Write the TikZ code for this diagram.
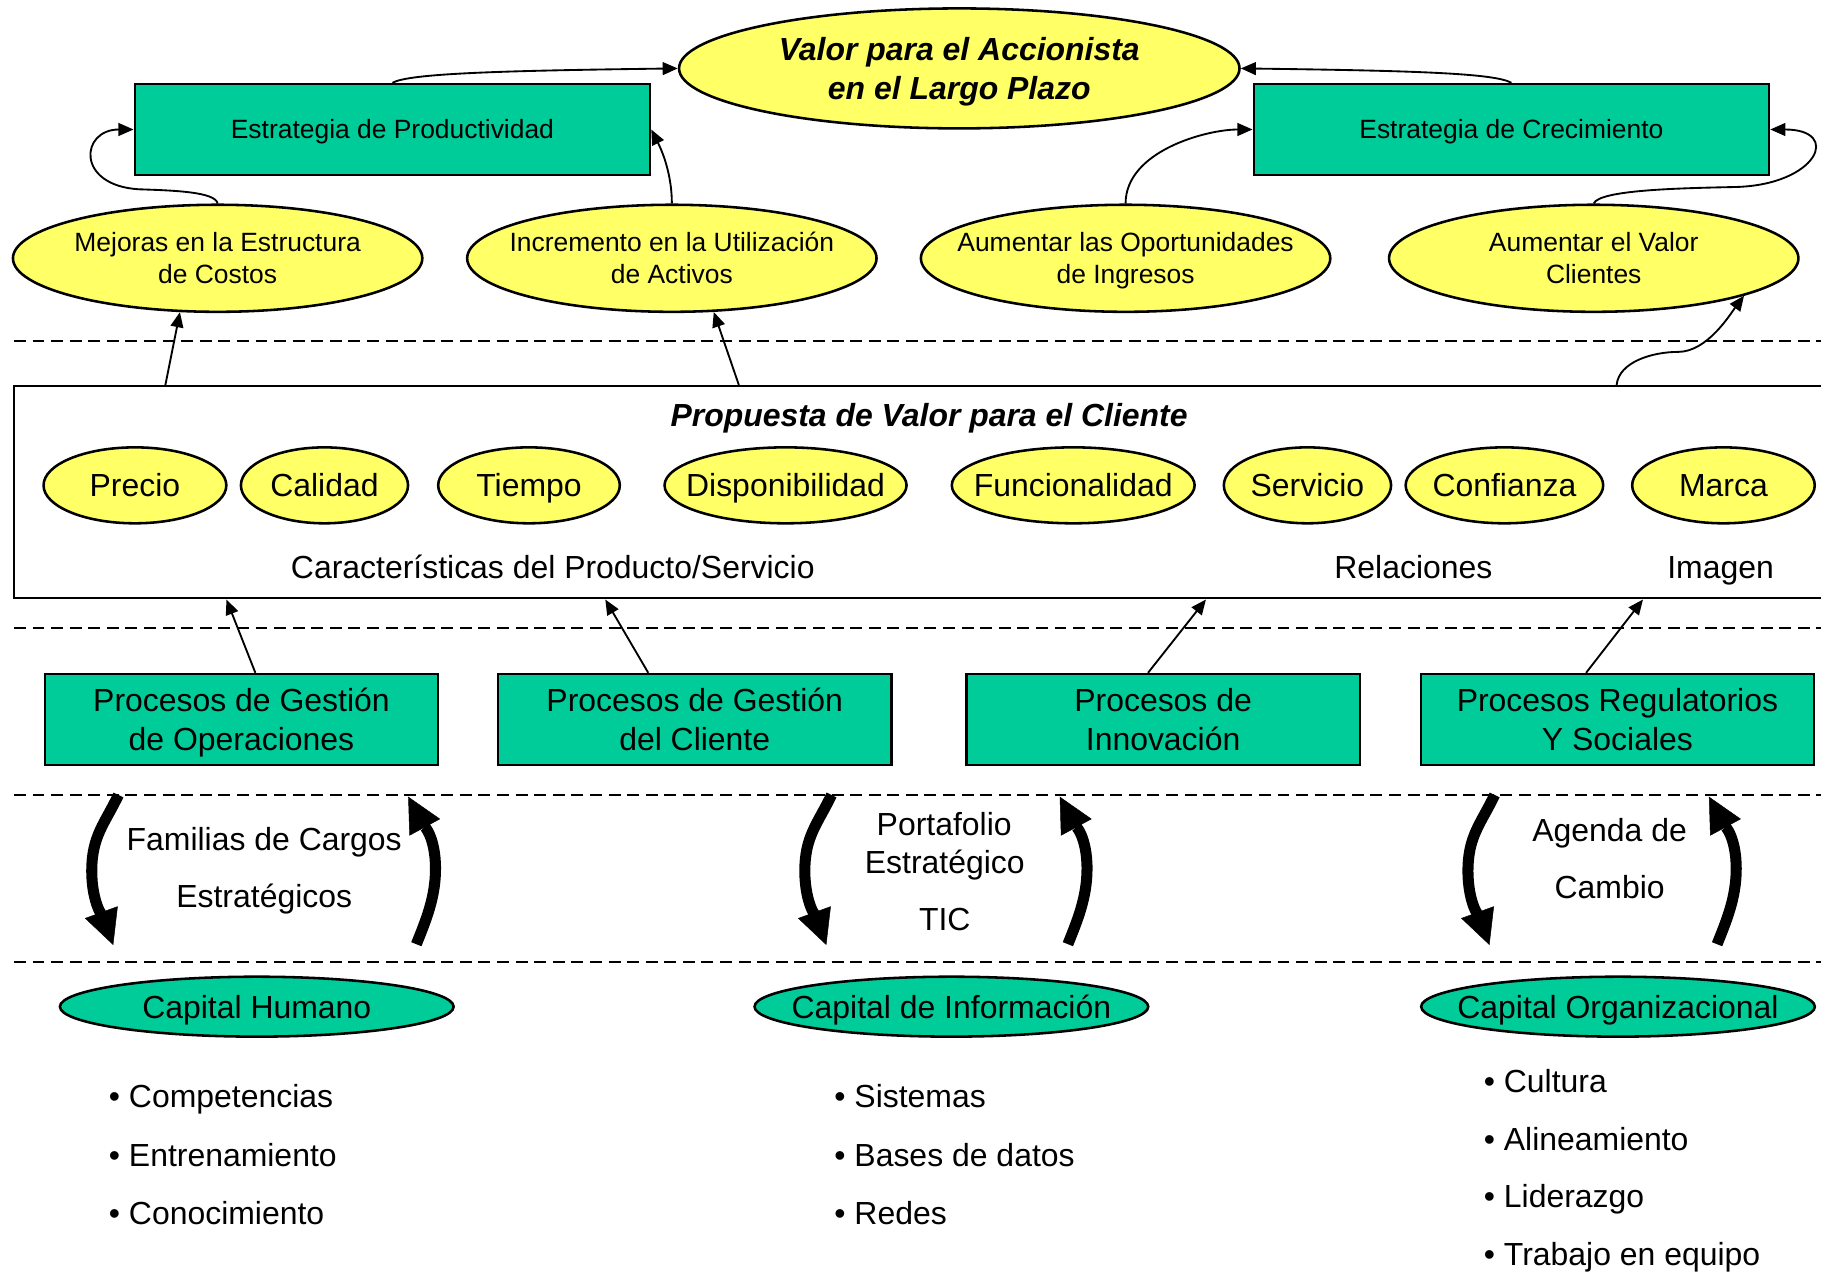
\documentclass[tikz,border=0pt]{standalone}
\usepackage{fontspec}
\setmainfont{Liberation Sans}
\usetikzlibrary{arrows.meta,calc,shapes.geometric}

\definecolor{kgreen}{RGB}{0,204,153}
\definecolor{kyellow}{RGB}{255,255,102}

\newcommand\fbig{\fontsize{27.5}{33}\selectfont}
\newcommand\fsml{\fontsize{22.75}{27.5}\selectfont}
% centred text of zero width, first line on the baseline
\newcommand\ctext[1]{\makebox[0pt]{\begin{tabular}[t]{@{}c@{}}#1\end{tabular}}}

\tikzset{
  yell/.style={ellipse, draw, line width=2.2pt, fill=kyellow, inner sep=0pt},
  gell/.style={ellipse, draw, line width=2.2pt, fill=kgreen, inner sep=0pt},
  gbox/.style={rectangle, draw, line width=2pt, fill=kgreen, inner sep=0pt},
  bigone/.style={font=\fbig, text height=19.7pt, text depth=0pt},
  bigtwo/.style={font=\fbig, text height=19.7pt, text depth=33pt},
  smlone/.style={font=\fsml, text height=16.3pt, text depth=0pt},
  smltwo/.style={font=\fsml, text height=16.3pt, text depth=27.5pt},
  lbl/.style={font=\fbig, anchor=base, inner sep=0pt},
  listitem/.style={font=\fbig, anchor=base west, inner sep=0pt},
  con/.style={line width=1.6pt, -{Triangle[length=13pt,width=11pt]}},
  fat/.style={line width=9.5pt, -{Triangle[length=30pt,width=30pt,line width=0.4pt]}},
  dashsep/.style={line width=1.8pt, dash pattern=on 10.3pt off 5.7pt},
}

\begin{document}
\begin{tikzpicture}[x=1pt,y=-1pt]
\useasboundingbox (0,0) rectangle (1568,1095);
\clip (0,0) rectangle (1568,1095);

% separators between the layers
\draw[dashsep] (12,293.6) -- (1568,293.6);
\draw[dashsep] (12,541) -- (1568,541);
\draw[dashsep] (12,684.5) -- (1568,684.5);
\draw[dashsep] (12,828) -- (1568,828);

% financial layer
\node[yell, minimum width=482.6pt, minimum height=103.3pt, bigtwo, font=\fbig\bfseries\itshape]
  (valor) at (826,58.9) {\ctext{Valor para el Accionista\\en el Largo Plazo}};
\node[gbox, minimum width=443.8pt, minimum height=78.4pt, smlone]
  (prod) at (337.9,111.5) {\ctext{Estrategia de Productividad}};
\node[gbox, minimum width=443.8pt, minimum height=78.4pt, smlone]
  (crec) at (1301.4,111.5) {\ctext{Estrategia de Crecimiento}};

\node[yell, minimum width=352.5pt, minimum height=92.2pt, smltwo]
  (mej) at (187.4,222.4) {\ctext{Mejoras en la Estructura\\de Costos}};
\node[yell, minimum width=352.5pt, minimum height=92.2pt, smltwo]
  (inc) at (578.5,222.4) {\ctext{Incremento en la Utilización\\de Activos}};
\node[yell, minimum width=352.5pt, minimum height=92.2pt, smltwo]
  (opo) at (969.2,222.4) {\ctext{Aumentar las Oportunidades\\de Ingresos}};
\node[yell, minimum width=352.5pt, minimum height=92.2pt, smltwo]
  (valc) at (1372.3,222.4) {\ctext{Aumentar el Valor\\Clientes}};

% customer layer
\node[draw, rectangle, line width=2pt, inner sep=0pt, minimum width=1563pt, minimum height=182.7pt]
  (prop) at (793.5,423.85) {};
\node[lbl, font=\fbig\bfseries\itshape] (propt) at (800,367.5) {Propuesta de Valor para el Cliente};

\node[yell, minimum width=157.4pt, minimum height=65.4pt, bigone] (precio) at (116.2,417.9) {\ctext{Precio}};
\node[yell, minimum width=143.9pt, minimum height=65.4pt, bigone] (calidad) at (279.4,417.9) {\ctext{Calidad}};
\node[yell, minimum width=156.4pt, minimum height=65.4pt, bigone] (tiempo) at (455.5,417.9) {\ctext{Tiempo}};
\node[yell, minimum width=208.4pt, minimum height=65.4pt, bigone] (dispo) at (676.4,417.9) {\ctext{Disponibilidad}};
\node[yell, minimum width=209.1pt, minimum height=65.4pt, bigone] (funci) at (924.1,417.9) {\ctext{Funcionalidad}};
\node[yell, minimum width=144pt, minimum height=65.4pt, bigone] (servi) at (1125.8,417.9) {\ctext{Servicio}};
\node[yell, minimum width=170.1pt, minimum height=65.4pt, bigone] (confi) at (1295.4,417.9) {\ctext{Confianza}};
\node[yell, minimum width=157.2pt, minimum height=65.4pt, bigone] (marca) at (1484,417.9) {\ctext{Marca}};

\node[lbl] (carac) at (476,498) {Características del Producto/Servicio};
\node[lbl] (relac) at (1217,498) {Relaciones};
\node[lbl] (imag) at (1481.5,498) {Imagen};

% internal layer
\node[gbox, minimum width=338.8pt, minimum height=78.3pt, bigtwo]
  (ops) at (207.9,619.5) {\ctext{Procesos de Gestión\\de Operaciones}};
\node[gbox, minimum width=338.8pt, minimum height=78.3pt, bigtwo]
  (cli) at (598.2,619.5) {\ctext{Procesos de Gestión\\del Cliente}};
\node[gbox, minimum width=338.8pt, minimum height=78.3pt, bigtwo]
  (inn) at (1001.5,619.5) {\ctext{Procesos de\\Innovación}};
\node[gbox, minimum width=338.8pt, minimum height=78.3pt, bigtwo]
  (reg) at (1392.7,619.5) {\ctext{Procesos Regulatorios\\Y Sociales}};

% learning layer
\node[lbl] (fam1) at (227.5,732.5) {Familias de Cargos};
\node[lbl] (fam2) at (227.5,781.5) {Estratégicos};
\node[lbl] (port1) at (813,719) {Portafolio};
\node[lbl] (port2) at (813.5,752) {Estratégico};
\node[lbl] (tic) at (813.5,801.5) {TIC};
\node[lbl] (age1) at (1386,724.5) {Agenda de};
\node[lbl] (age2) at (1386,773.5) {Cambio};

\node[gell, minimum width=339pt, minimum height=51.6pt, bigone] (ch) at (221.1,866.8) {\ctext{Capital Humano}};
\node[gell, minimum width=339pt, minimum height=51.6pt, bigone] (ci) at (819.2,866.8) {\ctext{Capital de Información}};
\node[gell, minimum width=339pt, minimum height=51.6pt, bigone] (co) at (1393.2,866.8) {\ctext{Capital Organizacional}};

\node[listitem] (h1) at (93.6,954) {• Competencias};
\node[listitem] (h2) at (93.6,1004) {• Entrenamiento};
\node[listitem] (h3) at (93.6,1054) {• Conocimiento};
\node[listitem] (i1) at (718.3,954) {• Sistemas};
\node[listitem] (i2) at (718.3,1004) {• Bases de datos};
\node[listitem] (i3) at (718.3,1054) {• Redes};
\node[listitem] (o1) at (1277.5,941) {• Cultura};
\node[listitem] (o2) at (1277.5,990.5) {• Alineamiento};
\node[listitem] (o3) at (1277.5,1040) {• Liderazgo};
\node[listitem] (o4) at (1277.5,1089.5) {• Trabajo en equipo};

% strategy links
\draw[con] (prod.north) .. controls +(14,-8) and +(-155,2) .. (valor.west);
\draw[con] (crec.north) .. controls +(-14,-8) and +(155,2) .. (valor.east);
\draw[con] (mej.north) .. controls +(-2,-10) and +(30,1) .. (120,163)
                       .. controls +(-55,-3) and +(-46,0) .. (prod.west);
\draw[con] (inc.north) .. controls +(0,-30) and +(6,12) .. (prod.east);
\draw[con] (opo.north) .. controls +(0,-45) and +(-40,0) .. (crec.west);
\draw[con] (valc.north) .. controls +(5,-12) and +(-45,1) .. (1495,161)
                        .. controls +(70,-2) and +(62,0) .. (crec.east);

% customer proposition to financial objectives
\coordinate (pa) at ($(prop.north west)+(131.4,0)$);
\coordinate (pb) at ($(prop.north west)+(625.2,0)$);
\coordinate (pc) at ($(prop.north west)+(1381,0)$);
\draw[con] (pa) -- (mej.235);
\draw[con] (pb) -- (inc.308);
\draw[con] (pc) .. controls +(2,-20) and +(-22,0) .. (1445,303)
                .. controls +(25,0) and +(-12,16) .. (valc.346);

% processes to customer proposition
\draw[con] ($(ops.north)+(12,0)$) -- ($(prop.south west)+(184,0)$);
\draw[con] ($(cli.north)+(-40,0)$) -- ($(prop.south west)+(510.2,0)$);
\draw[con] ($(inn.north)+(-13,0)$) -- ($(prop.south west)+(1027.4,0)$);
\draw[con] ($(reg.north)+(-27,0)$) -- ($(prop.south west)+(1403.7,0)$);

% alignment arrows between intangible assets and processes
\coordinate (da1) at (102,684.5);   \coordinate (da2) at (79,750);    \coordinate (da3) at (97.5,813.7);
\coordinate (ua1) at (358.5,813);   \coordinate (ua2) at (375,748);   \coordinate (ua3) at (351.5,686);
\coordinate (db1) at (716,684.5);   \coordinate (db2) at (693,750);   \coordinate (db3) at (711.5,813.7);
\coordinate (ub1) at (919.5,813);   \coordinate (ub2) at (936,748);   \coordinate (ub3) at (912.5,686);
\coordinate (dc1) at (1287,684.5);  \coordinate (dc2) at (1264,750);  \coordinate (dc3) at (1282.5,813.7);
\coordinate (uc1) at (1478.5,813);  \coordinate (uc2) at (1495,748);  \coordinate (uc3) at (1471.5,686);

\foreach \p in {a,b,c}{
  \draw[fat] (d\p1) .. controls +(-12,25) and +(0,-30) .. (d\p2)
                    .. controls +(0,28) and +(-8,-22) .. (d\p3);
  \draw[fat] (u\p1) .. controls +(8,-20) and +(0,25) .. (u\p2)
                    .. controls +(0,-28) and +(13,24) .. (u\p3);
}
\end{tikzpicture}
\end{document}
